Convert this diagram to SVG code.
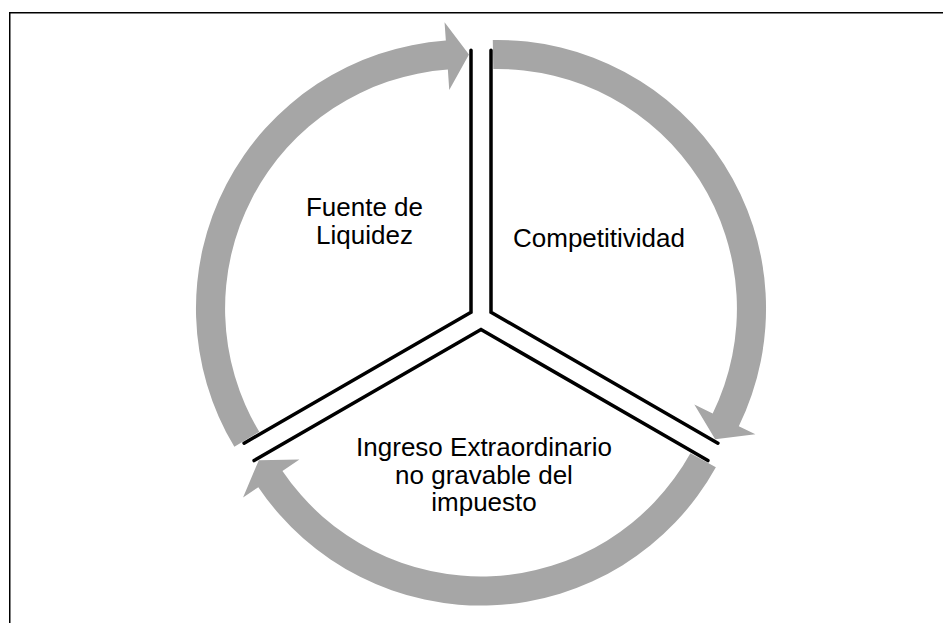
<svg xmlns="http://www.w3.org/2000/svg" xmlns:xlink="http://www.w3.org/1999/xlink" width="943" height="623" viewBox="0 0 943 623">
<style>
.arrow{fill:#a6a6a6;stroke:none}
.edge{fill:none;stroke:#000;stroke-width:3.5;stroke-linejoin:miter;stroke-linecap:round}
.lbl{font-family:"Liberation Sans",Arial,sans-serif;font-size:26px;fill:#000;text-anchor:middle}
</style>
<defs>
<path id="arr" d="M-246.65 128.8 A268.5 268.5 0 0 1 -35.15 -277.4 L-36.45 -295.8 L-12.02 -263.46 L-31.75 -228 L-33.15 -248.4 A239.5 239.5 0 0 0 -221.75 113.8 Z"/>
</defs>
<rect x="0" y="0" width="943" height="623" fill="#fff"/>
<path d="M9.75 623 V12.75 H943" fill="none" stroke="#000" stroke-width="1.5"/>
<g id="connectors">
<g transform="translate(481 318)">
<use xlink:href="#arr" href="#arr" class="arrow"/>
<use xlink:href="#arr" href="#arr" class="arrow" transform="rotate(120)"/>
<use xlink:href="#arr" href="#arr" class="arrow" transform="rotate(240)"/>
</g>
</g>
<g id="node-competitividad">
<path class="edge" d="M491 50.2 L491 312.2 L717.9 443.2"/>
<text class="lbl" x="599" y="247">Competitividad</text>
</g>
<g id="node-ingreso">
<path class="edge" d="M254.1 460.55 L481 329.55 L707.9 460.55"/>
<text class="lbl"><tspan x="484" y="456">Ingreso Extraordinario</tspan><tspan x="484" y="484">no gravable del</tspan><tspan x="484" y="511">impuesto</tspan></text>
</g>
<g id="node-liquidez">
<path class="edge" d="M471 50.2 L471 312.2 L244.1 443.2"/>
<text class="lbl"><tspan x="364.5" y="216">Fuente de</tspan><tspan x="364.5" y="244">Liquidez</tspan></text>
</g>
</svg>
